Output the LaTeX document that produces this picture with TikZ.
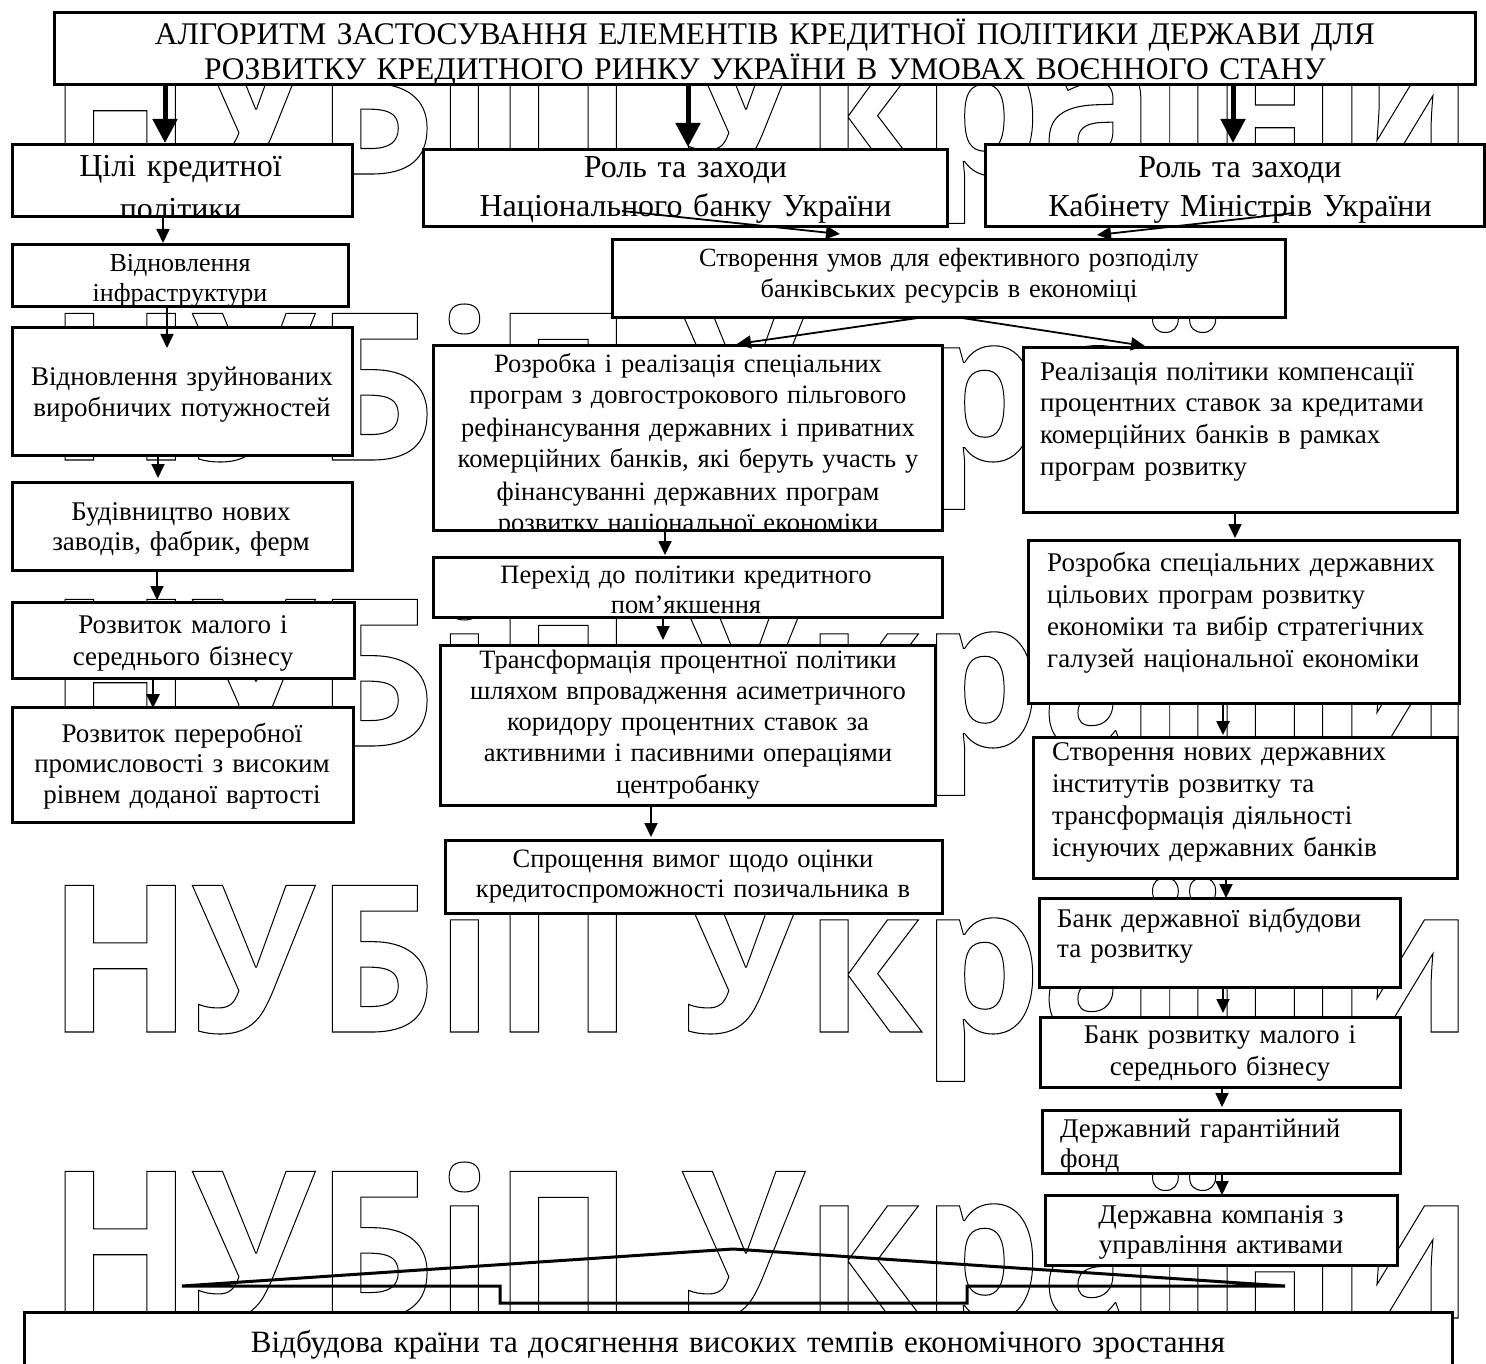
\documentclass[tikz,border=0pt]{standalone}
\usepackage{fontspec}
\setmainfont{Liberation Serif}
\newfontfamily\wmfont{Open Sans}
\usetikzlibrary{arrows.meta,fit}
\newcommand\fs[2]{\fontsize{#1}{#2}\selectfont}
\tikzset{
  boxfill/.style={fill=white, inner sep=0pt, outer sep=0pt},
  boxline/.style={line width=3pt},
  ctxt/.style={inner sep=0pt, text width=1480pt, align=center, anchor=base},
  ltxt/.style={inner sep=0pt, text width=700pt, align=left, anchor=base west},
  conn/.style={line width=1.8pt, -{Triangle[length=14pt,width=13pt]}},
  bigconn/.style={line width=5pt, -{Triangle[length=24pt,width=24pt]}},
  wm/.style={inner sep=0pt, anchor=base west},
}
\newcommand\tbox[9]{%
  \node[boxfill, fit={(#2,#3) (#4,#5)}] (#1) {};
  \begin{scope}
    \clip (#1.south west) rectangle (#1.north east);
    \node[#6] (#1t) at (#7,#8) {#9};
  \end{scope}
  \draw[boxline] (#1.south west) rectangle (#1.north east);
}
\newcommand\wmtext{\resizebox{1425pt}{156pt}{\wmfont\bfseries\fs{210}{210}\special{pdf:literal direct 1 Tr 1.1 w}НУБіП України\special{pdf:literal direct 0 Tr}}}
\begin{document}
\begin{tikzpicture}[x=1pt,y=-1pt]
\useasboundingbox (0,0) rectangle (1486,1364);
% watermark
\node[wm] (wm1) at (48,174) {\wmtext};
\node[wm] (wm2) at (48,460) {\wmtext};
\node[wm] (wm3) at (48,746) {\wmtext};
\node[wm] (wm4) at (48,1032) {\wmtext};
\node[wm] (wm5) at (48,1318) {\wmtext};
% boxes
\tbox{title}{54}{13}{1475}{85}{ctxt, font=\fs{31.5}{35}}{765}{45}{АЛГОРИТМ ЗАСТОСУВАННЯ ЕЛЕМЕНТІВ КРЕДИТНОЇ ПОЛІТИКИ ДЕРЖАВИ ДЛЯ\\РОЗВИТКУ КРЕДИТНОГО РИНКУ УКРАЇНИ В УМОВАХ ВОЄННОГО СТАНУ}
\tbox{b2}{12}{145}{352}{217}{ctxt, font=\fs{32}{43}}{180.5}{177}{Цілі кредитної\\політики}
\tbox{b3}{423}{150}{947}{227}{ctxt, font=\fs{32}{39}}{685.5}{178}{Роль та заходи\\Національного банку України}
\tbox{b4}{985}{145}{1484}{227}{ctxt, font=\fs{32}{39}}{1240}{178}{Роль та заходи\\Кабінету Міністрів України}
\tbox{b5}{612}{240}{1285}{318}{ctxt, font=\fs{26.3}{31}}{949}{267}{Створення умов для ефективного розподілу\\банківських ресурсів в економіці}
\tbox{b6}{12}{245}{348}{307}{ctxt, font=\fs{26}{30}}{180}{272}{Відновлення\\інфраструктури}
\tbox{b7}{12}{328}{352}{455}{ctxt, font=\fs{27}{31}}{182}{385}{Відновлення зруйнованих\\виробничих потужностей}
\tbox{b8}{12}{482}{352}{570}{ctxt, font=\fs{27}{30}}{181}{520}{Будівництво нових\\заводів, фабрик, ферм}
\tbox{b9}{12}{602}{354}{678}{ctxt, font=\fs{27}{32}}{183}{633}{Розвиток малого і\\середнього бізнесу}
\tbox{b10}{12}{707}{353}{822}{ctxt, font=\fs{27}{30.5}}{182}{742}{Розвиток переробної\\промисловості з високим\\рівнем доданої вартості}
\tbox{b11}{433}{345}{942}{530}{ctxt, font=\fs{26.5}{32}}{688}{372}{Розробка і реалізація спеціальних\\програм з довгострокового пільгового\\рефінансування державних і приватних\\комерційних банків, які беруть участь у\\фінансуванні державних програм\\розвитку національної економіки}
\tbox{b12}{433}{557}{942}{617}{ctxt, font=\fs{26.5}{30}}{686}{583}{Перехід до політики кредитного\\пом’якшення}
\tbox{b13}{440}{645}{935}{805}{ctxt, font=\fs{26.5}{31.3}}{688}{668}{Трансформація процентної політики\\шляхом впровадження асиметричного\\коридору процентних ставок за\\активними і пасивними операціями\\центробанку}
\tbox{b14}{445}{840}{942}{913}{ctxt, font=\fs{26.5}{30}}{693}{867}{Спрощення вимог щодо оцінки\\кредитоспроможності позичальника в}
\tbox{b15}{1023}{347}{1457}{512}{ltxt, font=\fs{27}{31.7}}{1040}{380}{Реалізація політики компенсації\\процентних ставок за кредитами\\комерційних банків в рамках\\програм розвитку}
\tbox{b16}{1028}{540}{1459}{703}{ltxt, font=\fs{27}{32}}{1047}{571}{Розробка спеціальних державних\\цільових програм розвитку\\економіки та вибір стратегічних\\галузей національної економіки}
\tbox{b17}{1033}{737}{1457}{878}{ltxt, font=\fs{27}{32.3}}{1052}{760}{Створення нових державних\\інститутів розвитку та\\трансформація діяльності\\існуючих державних банків}
\tbox{b18}{1039}{898}{1400}{987}{ltxt, font=\fs{27}{30}}{1057}{927}{Банк державної відбудови\\та розвитку}
\tbox{b19}{1040}{1017}{1400}{1087}{ctxt, font=\fs{27}{32}}{1220}{1043}{Банк розвитку малого і\\середнього бізнесу}
\tbox{b20}{1042}{1110}{1400}{1173}{ltxt, font=\fs{27}{30}}{1060}{1137}{Державний гарантійний\\фонд}
\tbox{b21}{1045}{1195}{1397}{1265}{ctxt, font=\fs{27}{30}}{1221}{1223}{Державна компанія з\\управління активами}
\tbox{b22}{24}{1312}{1452}{1390}{ctxt, font=\fs{31}{35}}{738}{1352}{Відбудова країни та досягнення високих темпів економічного зростання}
% block arrow
\draw[line width=3pt] (182,1286) -- (733,1249) -- (1285,1286) -- (967,1286) -- (967,1303) -- (500,1303) -- (500,1286) -- cycle;
% connectors
\draw[bigconn] ([xshift=-599.5pt]title.south) -- ([xshift=-17pt,yshift=2pt]b2.north);
\draw[bigconn] ([xshift=-76.5pt]title.south) -- ([xshift=3pt,yshift=3pt]b3.north);
\draw[bigconn] ([xshift=468.5pt]title.south) -- ([xshift=-1.5pt,yshift=2pt]b4.north);
\draw[conn] ([xshift=-19pt]b2.south) -- ([xshift=-17pt,yshift=2pt]b6.north);
\draw[conn] ([xshift=-13pt]b6.south) -- ([xshift=-15pt,yshift=-20pt]b7.north);
\draw[conn] ([xshift=-24pt]b7.south) -- ([xshift=-24pt,yshift=4pt]b8.north);
\draw[conn] ([xshift=-25pt]b8.south) -- ([xshift=-26pt,yshift=2pt]b9.north);
\draw[conn, line width=2.6pt] ([xshift=-30pt]b9.south) -- ([xshift=-29.5pt,yshift=-1pt]b10.north);
\draw[conn] ([xshift=-63pt,yshift=16pt]b3.south) -- ([xshift=-108.5pt,yshift=6pt]b5.north);
\draw[conn] ([xshift=59.5pt,yshift=14pt]b4.south) -- ([xshift=148.5pt,yshift=5pt]b5.north);
\draw[conn] ([xshift=-30.5pt]b5.south) -- ([xshift=49.5pt,yshift=1pt]b11.north);
\draw[conn] ([xshift=13.5pt]b5.south) -- ([xshift=-95pt,yshift=1pt]b15.north);
\draw[conn] ([xshift=-22.5pt]b11.south) -- ([xshift=-22.5pt,yshift=2pt]b12.north);
\draw[conn] ([xshift=-24.5pt]b12.south) -- ([xshift=-24.5pt,yshift=5pt]b13.north);
\draw[conn] ([xshift=-36.5pt]b13.south) -- ([xshift=-42.5pt,yshift=3pt]b14.north);
\draw[conn] ([xshift=-5pt]b15.south) -- ([xshift=-8.5pt,yshift=2pt]b16.north);
\draw[conn, line width=2.6pt] ([xshift=-20.5pt]b16.south) -- ([xshift=-22pt,yshift=2pt]b17.north);
\draw[conn] ([xshift=-19pt]b17.south) -- ([xshift=6.5pt]b18.north);
\draw[conn] ([xshift=3.5pt]b18.south) -- ([xshift=3pt,yshift=4pt]b19.north);
\draw[conn] ([xshift=2pt]b19.south) -- ([xshift=1pt,yshift=3pt]b20.north);
\draw[conn] ([xshift=1pt]b20.south) -- ([xshift=1pt]b21.north);
\end{tikzpicture}
\end{document}
